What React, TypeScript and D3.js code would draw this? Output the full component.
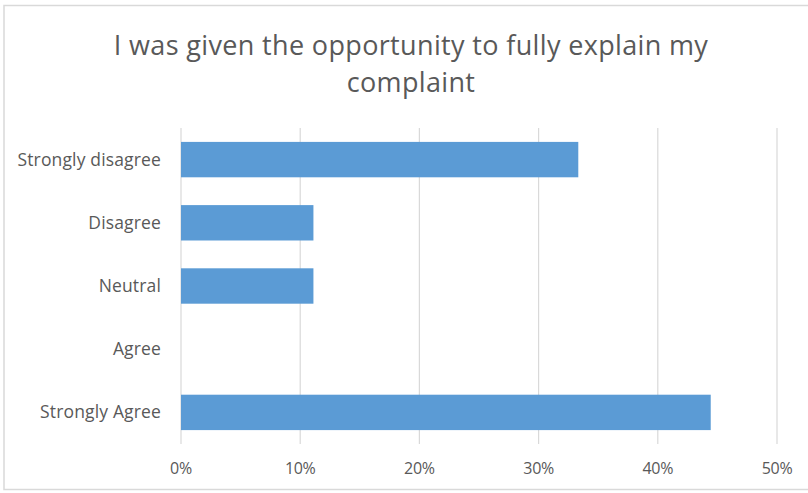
import React from "react";
import * as d3 from "d3";

const categories = ["Strongly disagree", "Disagree", "Neutral", "Agree", "Strongly Agree"];
const values = [0.3333, 0.1111, 0.1111, 0, 0.4444];
const ticks = [0, 0.1, 0.2, 0.3, 0.4, 0.5];
const titleLines = ["I was given the opportunity to fully explain my", "complaint"];

export default function App() {
  const W = 808, H = 493;
  const x = d3.scaleLinear().domain([0, 0.5]).range([181, 777]);
  const y = d3.scaleBand<string>().domain(categories).range([128, 444]).paddingInner(0.44).paddingOuter(0.22);
  const font = "'Open Sans', sans-serif";
  return (
    <svg width={W} height={H} style={{ position: "absolute", left: 0, top: 0, background: "#fff" }}>
      <rect x={4} y={5.5} width={W + 10} height={484} fill="#fff" stroke="#d9d9d9" strokeWidth={1.5} />
      {titleLines.map((t, i) => (
        <text key={i} x={411} y={55 + i * 37} textAnchor="middle" fontFamily={font} fontSize={27} fill="#595959" letterSpacing={0.35}>
          {t}
        </text>
      ))}
      {ticks.map((t) => (
        <g key={t}>
          <line x1={x(t)} x2={x(t)} y1={128} y2={444} stroke="#d9d9d9" strokeWidth={1.2} />
          <text x={x(t)} y={474} textAnchor="middle" fontFamily={font} fontSize={16} fill="#595959" letterSpacing={-0.3}>
            {d3.format(".0%")(t)}
          </text>
        </g>
      ))}
      {categories.map((c, i) => (
        <g key={c}>
          <rect x={x(0)} y={y(c)} width={x(values[i]) - x(0)} height={y.bandwidth()} fill="#5b9bd5" />
          <text x={161} y={(y(c) as number) + y.bandwidth() / 2 + 6} textAnchor="end" fontFamily={font} fontSize={17.5} fill="#595959" letterSpacing={0.15}>
            {c}
          </text>
        </g>
      ))}
    </svg>
  );
}
